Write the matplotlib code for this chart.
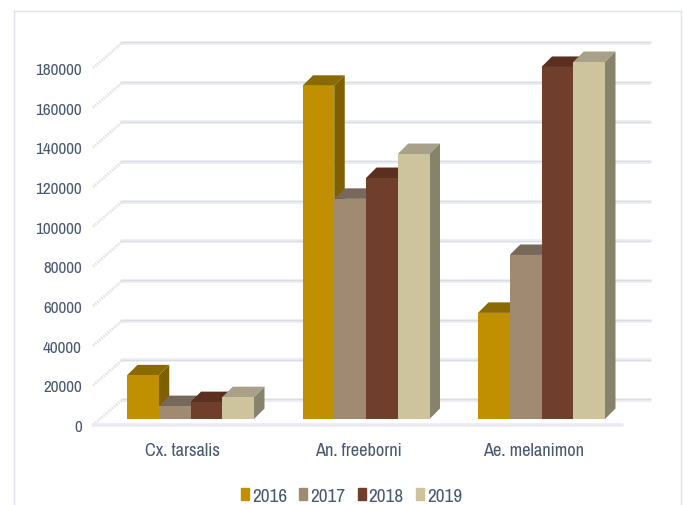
import matplotlib
matplotlib.use("Agg")
import matplotlib.pyplot as plt
import matplotlib.transforms as mtrans
from matplotlib.patches import Patch, Polygon
import numpy as np

species = ["Cx. tarsalis", "An. freeborni", "Ae. melanimon"]
years = ["2016", "2017", "2018", "2019"]
y2016 = [22000, 168000, 53500]
y2017 = [6500, 111000, 82700]
y2018 = [8500, 121500, 177500]
y2019 = [11000, 133600, 180000]
yticks = [0, 20000, 40000, 60000, 80000, 100000, 120000, 140000, 160000, 180000]

front_cols = ["#c09000", "#a18a72", "#6f3f2c", "#cdc39c"]
top_cols = ["#8a6a00", "#76685a", "#5a2f20", "#a8a088"]
side_cols = ["#7f6000", "#6d6050", "#52291c", "#87826a"]

plt.rcParams["font.family"] = ["Archivo Narrow", "Liberation Sans", "DejaVu Sans"]
txt_col = "#4a5870"

W, H = 684, 506
fig = plt.figure(figsize=(W / 100, H / 100), dpi=100)
fig.patch.set_facecolor("white")

# axes box in pixels: value 0 sits on the bar base line
left, right, top, bottom = 93, 650, 43, 420
ax = fig.add_axes([left / W, 1 - bottom / H, (right - left) / W, (bottom - top) / H])
px_per_val = 357 / 180000
px_per_cat = 175.5
ax.set_ylim(0, (bottom - top) / px_per_val)
ax.set_xlim((left - 190.5) / px_per_cat, (right - 190.5) / px_per_cat)
ax.patch.set_visible(False)
for s in ax.spines.values():
    s.set_visible(False)

# px to data helpers for depth offsets
dx_px = lambda p: p / px_per_cat
dy_px = lambda p: p / px_per_val

# back wall grid lines and the diagonal stubs on the side wall
x_front = ax.get_xlim()[0]
x_wall = x_front + dx_px(29)
x_end = ax.get_xlim()[1]
for v in yticks:
    y_f = v - dy_px(6)
    y_b = y_f + dy_px(25)
    ax.plot([x_wall, x_end], [y_b, y_b], color="#eaecf1", lw=2.6, clip_on=False, zorder=1,
            solid_capstyle="round")
    ax.plot([x_wall, x_end], [y_b + dy_px(0.6)] * 2, color="#dcdee2", lw=0.8, clip_on=False, zorder=1)
    ax.plot([x_front, x_wall], [y_f, y_b], color="#e2e4e8", lw=2, ls=(0, (0.6, 0.4)),
            clip_on=False, zorder=1)

# floor front edge
y0 = -dy_px(6)
ax.plot([x_front, x_end - dx_px(28)], [y0, y0], color="#eaecf1", lw=2.6, clip_on=False, zorder=1,
        solid_capstyle="round")

series = [y2016, y2017, y2018, y2019]
bw = 31.75 / px_per_cat
depth_x = dx_px(10.5)
depth_y = dy_px(10.5)
cats = np.arange(len(species))

for c in cats:
    for i, vals in enumerate(series):
        x0 = c + (i - 2) * bw
        x1 = x0 + bw
        v = vals[c]
        z = 3 + c * 10 + i
        ax.bar(x0, v, width=bw, align="edge", color=front_cols[i], zorder=z + 0.2, clip_on=False)
        ax.add_patch(Polygon([(x0, v), (x1, v), (x1 + depth_x, v + depth_y), (x0 + depth_x, v + depth_y)],
                             closed=True, fc=top_cols[i], ec="none", zorder=z, clip_on=False))
        ax.add_patch(Polygon([(x1, 0), (x1 + depth_x, depth_y), (x1 + depth_x, v + depth_y), (x1, v)],
                             closed=True, fc=side_cols[i], ec="none", zorder=z, clip_on=False))

# tick labels, shifted to the front plane of the box
ax.set_yticks(yticks)
ax.set_yticklabels([str(v) for v in yticks], color=txt_col, fontsize=12.3)
ax.tick_params(axis="y", length=0, pad=8)
shift_y = mtrans.ScaledTranslation(0, -6 / 100, fig.dpi_scale_trans)
for lab in ax.get_yticklabels():
    lab.set_transform(lab.get_transform() + shift_y)

ax.set_xticks(cats)
ax.set_xticklabels(species, color=txt_col, fontsize=13.2)
ax.tick_params(axis="x", length=0, pad=16.5)
shift_x = mtrans.ScaledTranslation(-8 / 100, 0, fig.dpi_scale_trans)
for lab in ax.get_xticklabels():
    lab.set_transform(lab.get_transform() + shift_x)

handles = [Patch(color=c, label=y) for c, y in zip(front_cols, years)]
fig.legend(handles=handles, loc="center", bbox_to_anchor=(351.5 / W, 1 - 497 / H), ncols=4, frameon=False,
           fontsize=13.8, labelcolor=txt_col, handlelength=0.42, handleheight=0.55,
           handletextpad=0.16, columnspacing=0.63, borderpad=0)

# outer chart frame, open at the bottom
frame_col = "#dfe3ec"
for xs, ys in [((14, 14), (506, 12)), ((14, 681), (12, 12)), ((681, 681), (12, 506))]:
    fig.add_artist(plt.Line2D([x / W for x in xs], [1 - y / H for y in ys], color=frame_col, lw=1.0))

fig.savefig("out.png", dpi=100)
